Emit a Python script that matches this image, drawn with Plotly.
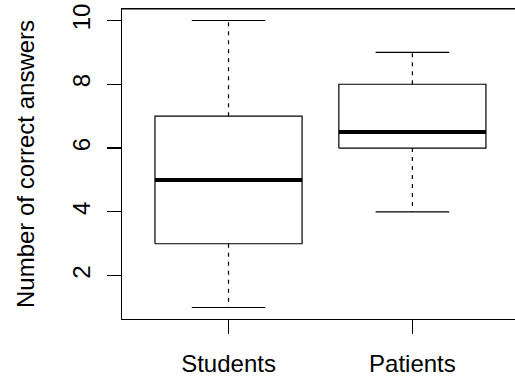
import plotly.graph_objects as go

groups = ["Students", "Patients"]
lower_whisker = [1, 4]
q1 = [3, 6]
median = [5, 6.5]
q3 = [7, 8]
upper_whisker = [10, 9]
yticks = [2, 4, 6, 8, 10]

BOXW = 0.8
CAPW = 0.4
LW = 1.2

fig = go.Figure()
for i, g in enumerate(groups):
    x = i + 1
    h = BOXW / 2
    c = CAPW / 2
    fig.add_trace(go.Scatter(
        x=[x - h, x + h, x + h, x - h, x - h],
        y=[q1[i], q1[i], q3[i], q3[i], q1[i]],
        mode="lines", line=dict(color="black", width=LW),
        fill="toself", fillcolor="white", showlegend=False, hoverinfo="skip"))
    fig.add_trace(go.Scatter(
        x=[x, x, None, x, x],
        y=[q3[i], upper_whisker[i], None, q1[i], lower_whisker[i]],
        mode="lines", line=dict(color="black", width=LW, dash="4px,5px"),
        showlegend=False, hoverinfo="skip"))
    fig.add_trace(go.Scatter(
        x=[x - c, x + c, None, x - c, x + c],
        y=[upper_whisker[i], upper_whisker[i], None, lower_whisker[i], lower_whisker[i]],
        mode="lines", line=dict(color="black", width=LW),
        showlegend=False, hoverinfo="skip"))
    fig.add_trace(go.Scatter(
        x=[x - h, x + h], y=[median[i], median[i]],
        mode="lines", line=dict(color="black", width=4),
        showlegend=False, hoverinfo="skip"))

FS = 24
font = dict(family="Liberation Sans, Arial, sans-serif", size=FS, color="black")

fig.update_layout(
    width=515, height=377,
    margin=dict(l=122, r=0, t=9, b=58),
    paper_bgcolor="white", plot_bgcolor="white",
    font=font,
    hovermode=False,
    shapes=[dict(type="line", xref="paper", yref="paper", x0=0, x1=1, y0=1, y1=1,
                 line=dict(color="black", width=LW))],
    xaxis=dict(
        range=[0.4207, 2.558], tickmode="array", tickvals=[1, 2], ticktext=groups,
        showgrid=False, zeroline=False, showline=True, mirror=True,
        linecolor="black", linewidth=LW, ticks="outside", ticklen=14,
        tickwidth=LW, tickcolor="black", ticklabelstandoff=9,
        automargin=False, tickfont=dict(size=FS), ticklabeloverflow="allow",
    ),
    yaxis=dict(
        range=[0.64, 10.36], tickmode="array", tickvals=yticks,
        ticktext=[str(v) for v in yticks], tickangle=-90,
        showgrid=False, zeroline=False, showline=True, mirror=False,
        linecolor="black", linewidth=LW, ticks="outside", ticklen=14,
        tickwidth=LW, tickcolor="black", ticklabelstandoff=7,
        automargin=False, tickfont=dict(size=FS), ticklabeloverflow="allow",
        title=dict(text="Number of correct answers", standoff=26,
                   font=dict(size=FS)),
    ),
)

fig.write_html("out.html", config={"displayModeBar": False, "staticPlot": True},
               post_script="document.body.style.margin='0';document.body.style.overflow='hidden';")
